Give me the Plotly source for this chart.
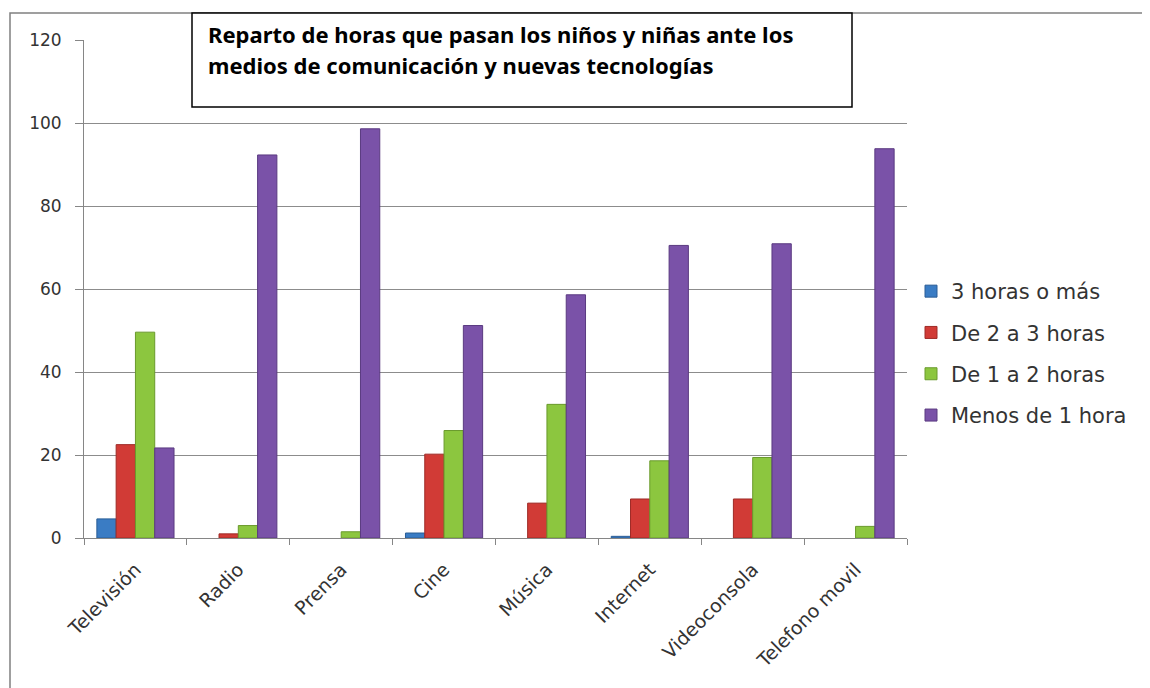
import plotly.graph_objects as go

categories = ["Televisión", "Radio", "Prensa", "Cine", "Música", "Internet", "Videoconsola", "Telefono movil"]
series_names = ["3 horas o más", "De 2 a 3 horas", "De 1 a 2 horas", "Menos de 1 hora"]
tres_o_mas = [4.6, 0, 0, 1.2, 0, 0.4, 0, 0]
de_2_a_3 = [22.5, 1.0, 0, 20.2, 8.4, 9.4, 9.4, 0]
de_1_a_2 = [49.6, 3.0, 1.5, 25.9, 32.2, 18.6, 19.4, 2.8]
menos_de_1 = [21.7, 92.3, 98.6, 51.2, 58.6, 70.5, 70.9, 93.8]
y_ticks = [0, 20, 40, 60, 80, 100, 120]
title_lines = ["Reparto de horas que pasan los niños y niñas ante los",
               "medios de comunicación y nuevas tecnologías"]

colors = ["#3a7cc4", "#d13b36", "#8cc63f", "#7a52a8"]
edges = ["#2a5d96", "#9e2a26", "#6a9a2c", "#5a3a80"]
values = [tres_o_mas, de_2_a_3, de_1_a_2, menos_de_1]

# page is rendered with an 8px body offset; plot area target: x 84..907, y 40..538
OFF = 8
PL, PR, PT, PB = 84, 907, 40, 538
PW, PH = PR - PL, PB - PT

def px(xpix):
    return (xpix - PL) / PW

def py(ypix):
    return (PB - ypix) / PH

fig = go.Figure()
for name, vals, c, e in zip(series_names, values, colors, edges):
    fig.add_trace(go.Bar(
        x=categories, y=[v if v > 0 else None for v in vals], name=name, legendgroup=name,
        marker=dict(color=c, line=dict(color=e, width=1)),
    ))

fig.update_layout(
    width=1150, height=688,
    margin=dict(l=PL - OFF, r=1150 - PR + OFF, t=PT - OFF, b=688 - PB + OFF),
    paper_bgcolor="white", plot_bgcolor="white",
    barmode="group", bargap=0.25, bargroupgap=0,
    font=dict(family="DejaVu Sans", size=18, color="#333333"),
    showlegend=True,
    legend=dict(x=px(911), y=py(271), xanchor="left", yanchor="top", itemwidth=30,
                font=dict(family="DejaVu Sans", size=21, color="#333333"),
                tracegroupgap=11, bgcolor="rgba(0,0,0,0)"),
    xaxis=dict(showgrid=False, showline=True, linecolor="#868686", linewidth=1,
               ticks="outside", tickson="boundaries", ticklen=6, tickcolor="#868686",
               tickangle=-45, ticklabelstandoff=12,
               tickfont=dict(family="DejaVu Sans", size=19, color="#333333")),
    yaxis=dict(range=[0, 120], tickvals=y_ticks, showgrid=True, gridcolor="#8c8c8c", gridwidth=1,
               showline=True, linecolor="#868686", linewidth=1, zeroline=False,
               ticks="outside", ticklen=8, tickcolor="#868686", ticklabelstandoff=10,
               tickfont=dict(family="DejaVu Sans", size=17, color="#333333")),
)

# outer chart border
fig.add_shape(type="rect", xref="paper", yref="paper",
              x0=px(10), x1=2.0, y0=-1.0, y1=py(13),
              line=dict(color="#808080", width=1.5), fillcolor="rgba(0,0,0,0)", layer="below")
# title box
fig.add_shape(type="rect", xref="paper", yref="paper",
              x0=px(192), x1=px(852), y0=py(107), y1=py(13),
              line=dict(color="black", width=1.5), fillcolor="white", layer="above")
for line, ypix in zip(title_lines, [34, 65]):
    fig.add_annotation(xref="paper", yref="paper", x=px(206), y=py(ypix),
                       xanchor="left", yanchor="middle", showarrow=False, text="<b>" + line + "</b>",
                       font=dict(family="Noto Sans", size=22, color="black"))

fig.write_html("out.html")
